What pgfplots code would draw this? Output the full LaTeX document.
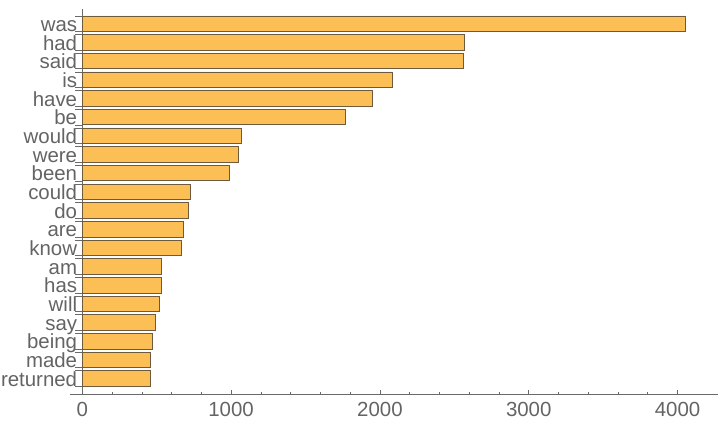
\documentclass[border=0pt]{standalone}
\usepackage{fontspec}
\setmainfont{Liberation Sans}
\usepackage{pgfplots}
\usepackage{pgfplotstable}
\pgfplotsset{compat=1.18}

\definecolor{barfill}{HTML}{FBBF56}
\definecolor{baredge}{HTML}{6E5A3C}
\definecolor{axisgray}{HTML}{6A6A6A}
\definecolor{labelgray}{HTML}{646464}

% word counts, top bar first
\pgfplotstableread{
pos count
0  4054
1  2568
2  2561
3  2084
4  1950
5  1765
6  1067
7  1049
8  988
9  726
10 713
11 679
12 666
13 534
14 534
15 518
16 491
17 471
18 457
19 457
}\wordtable

\pgfplotsset{
    chartframe/.style={
        at={(82.3bp,32bp)}, anchor=south west,
        scale only axis,
        width=635.4bp, height=385bp,
        xmin=0, xmax=4270,
        ymin=-0.787, ymax=19.83,
        y dir=reverse,
        clip=false,
    },
}

\begin{document}
\begin{tikzpicture}
\path[use as bounding box] (0,0) rectangle (720bp,426bp);
\begin{axis}[
    chartframe,
    axis x line*=bottom, axis y line*=left,
    axis line style={draw=axisgray, line width=0.7bp},
    x axis line style={shorten <=-12.7bp},
    tick align=inside,
    major tick length=4bp, minor tick length=2.2bp,
    tick style={draw=axisgray, line width=0.6bp},
    xtick={0,1000,2000,3000,4000},
    minor x tick num=4,
    ytick={0,...,19},
    yticklabels={was,had,said,is,have,be,would,were,been,could,do,are,know,am,has,will,say,being,made,returned},
    y tick style={draw=none},
    /pgf/number format/assume math mode=true,
    /pgf/number format/1000 sep={},
    ticklabel style={font=\fontsize{20.5}{24}\selectfont, text=labelgray},
    xticklabel style={yshift=-5bp},
    yticklabel style={anchor=base east, inner sep=0pt, xshift=-5bp, yshift=-7.8bp},
]
\addplot[xbar, bar width=15.5bp, bar shift=0pt, fill=barfill, draw=baredge, line width=0.7bp]
    table[x=count, y=pos] {\wordtable};
\end{axis}
% bar edge ticks on the left of the y axis
\begin{axis}[
    chartframe,
    axis x line=none, axis y line*=left,
    axis line style={draw=none},
    tick align=outside,
    major tick length=7bp,
    tick style={draw=axisgray, line width=0.6bp},
    ytick={-0.415,0.415,0.585,1.415,1.585,2.415,2.585,3.415,3.585,4.415,4.585,5.415,5.585,6.415,6.585,7.415,7.585,8.415,8.585,9.415,9.585,10.415,10.585,11.415,11.585,12.415,12.585,13.415,13.585,14.415,14.585,15.415,15.585,16.415,16.585,17.415,17.585,18.415,18.585,19.415},
    yticklabels={},
]
\end{axis}
\end{tikzpicture}
\end{document}
